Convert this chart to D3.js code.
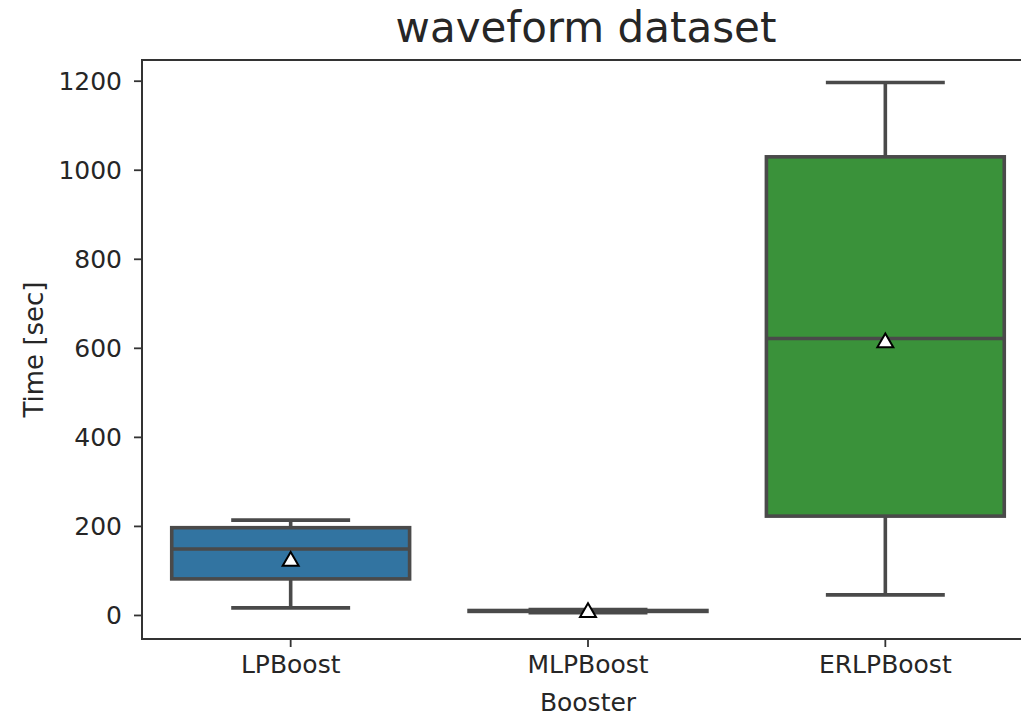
<!DOCTYPE html>
<html>
<head>
<meta charset="utf-8">
<script src="https://cdn.jsdelivr.net/npm/d3@7"></script>
<style>
  html, body { margin: 0; padding: 0; background: #fff; }
  svg text { font-family: "DejaVu Sans", sans-serif; fill: #262626; }
</style>
</head>
<body>
<svg id="chart" width="1021" height="717"></svg>
<script>
// Run-time summary per booster (seconds)
const categories   = ["LPBoost", "MLPBoost", "ERLPBoost"];
const whiskerLow   = [16, 5, 45];
const quartile1    = [81, 8, 222];
const medians      = [148, 9, 621];
const quartile3    = [196, 10, 1029];
const whiskerHigh  = [213, 12, 1196];
const means        = [123, 8, 614];
const boxColors    = ["#3274a1", "#e1812c", "#3a923a"];
const yTicks       = [0, 200, 400, 600, 800, 1000, 1200];

const rows = categories.map((c, i) => ({
  name: c, lo: whiskerLow[i], q1: quartile1[i], med: medians[i],
  q3: quartile3[i], hi: whiskerHigh[i], mean: means[i], color: boxColors[i]
}));

const svg = d3.select("#chart");
const plot = { left: 142, top: 60, right: 1034, bottom: 639 };

const x = d3.scaleBand().domain(categories).range([plot.left, plot.right]).paddingInner(0).paddingOuter(0);
const y = d3.scaleLinear().domain([-54, 1246.5]).range([plot.bottom, plot.top]);

const lineColor = "#4a4a4a";
const boxW = x.bandwidth() * 0.8;
const capW = boxW * 0.5;

// Boxes
const g = svg.append("g");
rows.forEach(d => {
  const cx = x(d.name) + x.bandwidth() / 2;
  // whiskers
  g.append("line").attr("x1", cx).attr("x2", cx).attr("y1", y(d.q1)).attr("y2", y(d.lo))
    .attr("stroke", lineColor).attr("stroke-width", 3.6);
  g.append("line").attr("x1", cx).attr("x2", cx).attr("y1", y(d.q3)).attr("y2", y(d.hi))
    .attr("stroke", lineColor).attr("stroke-width", 3.6);
  // caps
  [d.lo, d.hi].forEach(v => {
    g.append("line").attr("x1", cx - capW / 2).attr("x2", cx + capW / 2)
      .attr("y1", y(v)).attr("y2", y(v))
      .attr("stroke", lineColor).attr("stroke-width", 3.6);
  });
  // box
  g.append("rect").attr("x", cx - boxW / 2).attr("width", boxW)
    .attr("y", y(d.q3)).attr("height", Math.max(0.1, y(d.q1) - y(d.q3)))
    .attr("fill", d.color).attr("stroke", lineColor).attr("stroke-width", 3.6);
  // median
  g.append("line").attr("x1", cx - boxW / 2).attr("x2", cx + boxW / 2)
    .attr("y1", y(d.med)).attr("y2", y(d.med))
    .attr("stroke", lineColor).attr("stroke-width", 3.6);
  // mean marker
  g.append("path")
    .attr("d", d3.symbol().type(d3.symbolTriangle).size(110)())
    .attr("transform", `translate(${cx},${y(d.mean) + 1})`)
    .attr("fill", "#fff").attr("stroke", "#000").attr("stroke-width", 2);
});

// Y axis
const yAxis = svg.append("g").attr("transform", `translate(${plot.left},0)`)
  .call(d3.axisLeft(y).tickValues(yTicks).tickSize(8).tickPadding(12).tickFormat(d3.format("d")));
yAxis.select(".domain").remove();
yAxis.selectAll(".tick line").attr("stroke", "#333").attr("stroke-width", 1.8);
yAxis.selectAll(".tick text").attr("font-size", 25).attr("fill", "#262626").attr("dy", "0.35em");

// X axis
const xAxis = svg.append("g").attr("transform", `translate(0,${plot.bottom})`)
  .call(d3.axisBottom(x).tickSize(8).tickPadding(8));
xAxis.select(".domain").remove();
xAxis.selectAll(".tick line").attr("stroke", "#333").attr("stroke-width", 1.8);
xAxis.selectAll(".tick text").attr("font-size", 25).attr("fill", "#262626");

// Spines
svg.append("rect").attr("x", plot.left).attr("y", plot.top)
  .attr("width", plot.right - plot.left).attr("height", plot.bottom - plot.top)
  .attr("fill", "none").attr("stroke", "#333").attr("stroke-width", 2);

// Title and axis labels
svg.append("text").attr("x", (plot.left + plot.right) / 2 - 2).attr("y", 42)
  .attr("text-anchor", "middle").attr("font-size", 42).text("waveform dataset");
svg.append("text").attr("x", (plot.left + plot.right) / 2).attr("y", 711)
  .attr("text-anchor", "middle").attr("font-size", 25).text("Booster");
svg.append("text").attr("transform", `translate(43,${(plot.top + plot.bottom) / 2}) rotate(-90)`)
  .attr("text-anchor", "middle").attr("font-size", 26).text("Time [sec]");
</script>
</body>
</html>
